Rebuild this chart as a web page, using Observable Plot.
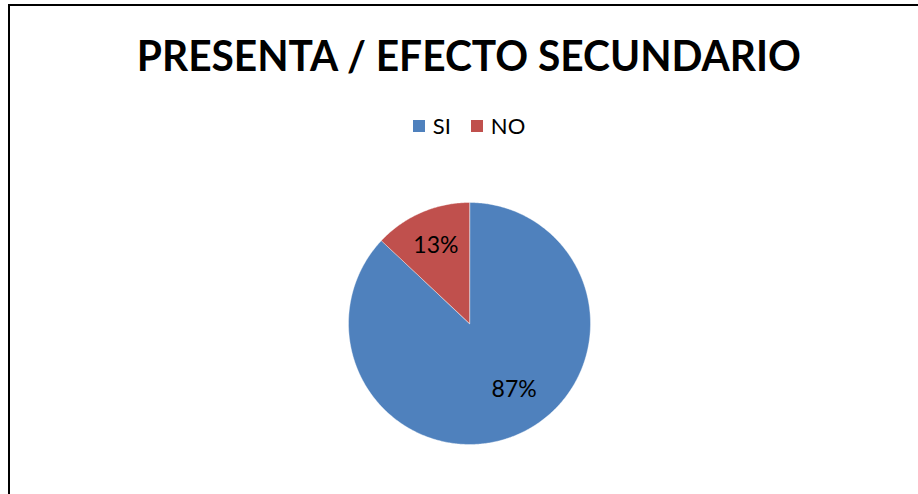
<!DOCTYPE html>
<html>
<head>
<meta charset="utf-8">
<script src="https://cdn.jsdelivr.net/npm/d3@7"></script>
<script src="https://cdn.jsdelivr.net/npm/@observablehq/plot@0.6"></script>
<style>
  html, body { margin: 0; padding: 0; background: #fff; }
  body { width: 918px; height: 494px; position: relative; overflow: hidden; font-family: Lato, "Open Sans", sans-serif; }
  #frame { position: absolute; left: 8px; top: 4px; width: 920px; height: 500px; border-left: 2px solid #000; border-top: 2px solid #000; box-sizing: border-box; }
  #title { position: absolute; left: 0; width: 938px; top: 34px; text-align: center; font-weight: 700; font-size: 42px; color: #000; white-space: nowrap; line-height: 1; }
  #title span { display: inline-block; transform-origin: center; }
  #legend { position: absolute; top: 112px; left: 0; width: 938px; text-align: center; font-size: 22px; color: #000; line-height: 24px; white-space: nowrap; }
  .item { display: inline-flex; align-items: center; margin: 0 10px; }
  .sw { width: 12px; height: 12px; display: inline-block; margin-right: 8px; }
  #plot { position: absolute; left: 319px; top: 172.5px; }
</style>
</head>
<body>
<div id="frame"></div>
<div id="title"><span>PRESENTA / EFECTO SECUNDARIO</span></div>
<div id="legend"></div>
<div id="plot"></div>
<script>
const categories = ["SI", "NO"];
const values = [87, 13];
const labels = ["87%", "13%"];
const colors = ["#4F81BD", "#C0504D"];

// fit title width to reference
const tspan = document.querySelector("#title span");
const tw = tspan.getBoundingClientRect().width;
tspan.style.transform = `scaleX(${664 / tw})`;

// legend
const legend = document.getElementById("legend");
categories.forEach((c, i) => {
  const it = document.createElement("span");
  it.className = "item";
  it.innerHTML = `<span class="sw" style="background:${colors[i]}"></span>${c}`;
  legend.appendChild(it);
});

// pie geometry in unit-circle coordinates
const pie = d3.pie().sort(null).value(d => d.value)(categories.map((c, i) => ({cat: c, value: values[i], label: labels[i]})));
const pts = [];
pie.forEach(s => {
  const n = Math.max(2, Math.ceil((s.endAngle - s.startAngle) / 0.01));
  pts.push({cat: s.data.cat, x: 0, y: 0});
  for (let k = 0; k <= n; k++) {
    const a = s.startAngle + (s.endAngle - s.startAngle) * k / n;
    pts.push({cat: s.data.cat, x: Math.sin(a), y: Math.cos(a)});
  }
});
const lab = pie.map(s => {
  const a = (s.startAngle + s.endAngle) / 2;
  const r = 0.7;
  return {cat: s.data.cat, label: s.data.label, x: r * Math.sin(a), y: r * Math.cos(a)};
});

const S = 300, R = 121, ext = (S / 2) / R;
const chart = Plot.plot({
  width: S, height: S, margin: 0,
  x: {domain: [-ext, ext], axis: null},
  y: {domain: [-ext, ext], axis: null},
  color: {domain: categories, range: colors},
  marks: [
    Plot.line(pts, {x: "x", y: "y", z: "cat", fill: "cat", stroke: "white", strokeWidth: 0.4, curve: "linear-closed"}),
    Plot.text(lab.filter(d => d.cat === "SI"), {x: "x", y: "y", text: "label", fontSize: 23, fill: "#000", dx: 11, dy: -12}),
    Plot.text(lab.filter(d => d.cat === "NO"), {x: "x", y: "y", text: "label", fontSize: 23, fill: "#000"})
  ]
});
chart.style.fontFamily = "Lato, 'Open Sans', sans-serif";
document.getElementById("plot").appendChild(chart);
</script>
</body>
</html>
